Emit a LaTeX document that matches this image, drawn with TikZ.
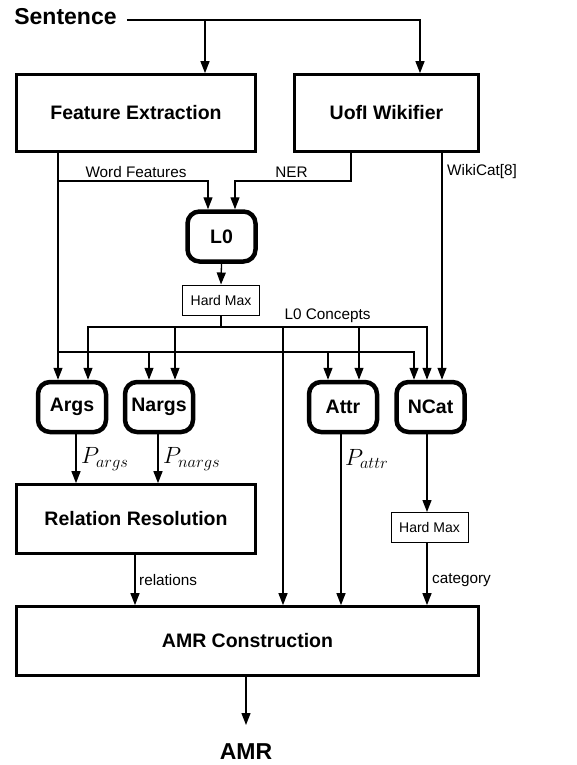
\documentclass[tikz,border=0pt]{standalone}
\usepackage{fix-cm}
\usepackage{fontspec}
\setmainfont{Liberation Sans}
\usetikzlibrary{arrows.meta,calc}
\begin{document}
\begin{tikzpicture}[x=1pt,y=-1pt,
  thin line/.style={line width=1.3pt},
  arr/.style={thin line,-{Triangle[length=12pt,width=9pt]}},
  bigbox/.style={draw,line width=2.7pt,inner sep=0pt,font=\fontsize{19.5}{23}\selectfont\bfseries},
  modbox/.style={draw,line width=4.5pt,rounded corners=12pt,inner sep=0pt,minimum width=68pt,minimum height=50pt,font=\fontsize{19.5}{23}\selectfont\bfseries},
  hmbox/.style={draw,line width=1pt,inner sep=0pt,minimum width=77pt,minimum height=30pt,font=\fontsize{14}{17}\selectfont},
  lbl/.style={inner sep=0pt,font=\fontsize{15.3}{18}\selectfont},
  mlbl/.style={inner sep=0pt,font=\fontsize{23.5}{27}\selectfont},
  title/.style={inner sep=0pt,font=\fontsize{23}{27}\selectfont\bfseries}]
\useasboundingbox (0,0) rectangle (577,765);

% nodes
\node[title] (sent) at (65.5,17) {Sentence};
\node[bigbox,minimum width=239pt,minimum height=77pt] (fe) at (136,113) {Feature Extraction};
\node[bigbox,minimum width=184pt,minimum height=77pt] (wk) at (386.5,113) {UofI Wikifier};
\node[modbox] (l0) at (221.5,236.5) {L0};
\node[hmbox] (hm1) at (221,300) {Hard Max};
\node[modbox] (args) at (72,407) {Args};
\node[modbox] (nargs) at (159,407) {Nargs};
\node[modbox] (attr) at (343,407) {Attr};
\node[modbox] (ncat) at (430.5,407) {NCat};
\node[bigbox,minimum width=239pt,minimum height=69pt] (rr) at (136,519) {Relation Resolution};
\node[hmbox] (hm2) at (429.5,527.5) {Hard Max};
\node[bigbox,minimum width=462pt,minimum height=69pt] (amr) at (247.5,641) {AMR Construction};
\node[title] (out) at (246,752) {AMR};

% coordinates
\coordinate (s1) at (205,20);
\coordinate (s2) at (420,20);
\coordinate (wf) at (58,181);
\coordinate (ner) at (235,181);
\coordinate (fL) at (58,352);
\coordinate (cb) at (221,327);
\coordinate (c283) at (283,327);
\coordinate (outtop) at (246,725);

% sentence
\draw[thin line] ([xshift=10pt]sent.east |- s1) -- (s1);
\draw[arr] (s1) -| ([xshift=33.5pt]wk.north);
\draw[arr] (s1) -- (fe.north -| s1);

% feature extraction outputs
\draw[arr] (fe.south -| wf) |- (wf) -| ([xshift=-13.5pt]l0.north);
\draw[arr] (fe.south -| fL) -- ([xshift=-14pt]args.north);
\draw[arr] (fL) -| ([xshift=-16.5pt]ncat.north);
\draw[arr] ([xshift=-10pt]nargs.north |- fL) -- ([xshift=-10pt]nargs.north);
\draw[arr] ([xshift=-15pt]attr.north |- fL) -- ([xshift=-15pt]attr.north);
\node[lbl] (wflbl) at (136,172) {Word Features};

% wikifier outputs
\draw[arr] ([xshift=-35.5pt]wk.south) |- (ner) -- ([xshift=13.5pt]l0.north);
\node[lbl] (nerlbl) at (291.5,172) {NER};
\draw[arr] ([xshift=55.5pt]wk.south) -- ([xshift=11.5pt]ncat.north);
\node[lbl,anchor=west] (wclbl) at (447,172) {WikiCat[8]};

% L0
\draw[arr] (l0.south) -- (hm1.north);
\draw[thin line] (hm1.south) -- (cb);
\draw[arr] (cb) -| ([xshift=16pt]args.north);
\draw[arr] (cb) -| ([xshift=-3.5pt]ncat.north);
\draw[arr] ([xshift=16pt]nargs.north |- cb) -- ([xshift=16pt]nargs.north);
\draw[arr] ([xshift=16pt]attr.north |- cb) -- ([xshift=16pt]attr.north);
\draw[arr] (c283) -- (amr.north -| c283);
\node[lbl] (l0c) at (327.5,316) {L0 Concepts};

% classifier outputs
\draw[arr] ([xshift=4pt]args.south) -- ([xshift=4pt]args.south |- rr.north);
\node[mlbl,anchor=west] (pargs) at (81,459) {$P_{args}$};
\draw[arr] ([xshift=-1pt]nargs.south) -- ([xshift=-1pt]nargs.south |- rr.north);
\node[mlbl,anchor=west] (pnargs) at (163,459) {$P_{nargs}$};
\draw[arr] ([xshift=-2pt]attr.south) -- ([xshift=-2pt]attr.south |- amr.north);
\node[mlbl,anchor=west] (pattr) at (345,459) {$P_{attr}$};
\draw[arr] ([xshift=-3.5pt]ncat.south) -- ([xshift=-3.5pt]ncat.south |- hm2.north);

% to AMR construction
\draw[arr] ([xshift=-1pt]rr.south) -- ([xshift=-1pt]rr.south |- amr.north);
\node[lbl,anchor=west] (rellbl) at (139,580) {relations};
\draw[arr] ([xshift=-2.5pt]hm2.south) -- ([xshift=-2.5pt]hm2.south |- amr.north);
\node[lbl,anchor=west] (catlbl) at (432,580) {category};

% output
\draw[arr] ([xshift=-1.5pt]amr.south) -- (outtop);
\end{tikzpicture}
\end{document}
